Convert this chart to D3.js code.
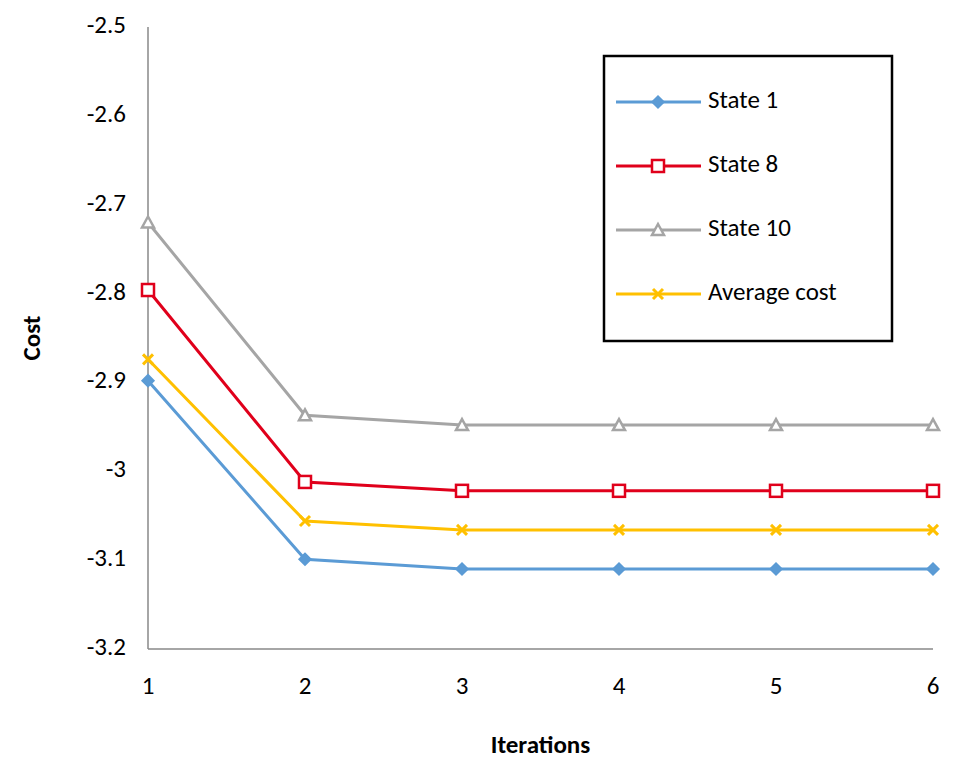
<!DOCTYPE html>
<html><head><meta charset="utf-8">
<script src="https://cdn.jsdelivr.net/npm/d3@7"></script>
<style>body{margin:0;background:#fff}text{font-family:Calibri,Carlito,"Open Sans","Liberation Sans",Arial,sans-serif}</style>
</head><body><div id="chart"></div>
<script>
const iterations = [1, 2, 3, 4, 5, 6]
const state1 = [-2.898, -3.099, -3.110, -3.110, -3.110, -3.110]
const state8 = [-2.796, -3.012, -3.022, -3.022, -3.022, -3.022]
const state10 = [-2.720, -2.937, -2.948, -2.948, -2.948, -2.948]
const average = [-2.874, -3.056, -3.066, -3.066, -3.066, -3.066]
const yTicks = [-2.5, -2.6, -2.7, -2.8, -2.9, -3, -3.1, -3.2]

const series = [
    { name: 'State 1', values: state1, color: '#5b9bd5', marker: 'diamond' },
    { name: 'State 8', values: state8, color: '#e0001b', marker: 'square' },
    { name: 'State 10', values: state10, color: '#a5a5a5', marker: 'triangle' },
    { name: 'Average cost', values: average, color: '#ffc000', marker: 'cross' }
]

const W = 969, H = 779
const margin = { left: 148, right: 36, top: 27, bottom: 130 }

const svg = d3.select('#chart').append('svg').attr('width', W).attr('height', H)

const x = d3.scaleLinear().domain([1, 6]).range([margin.left, W - margin.right])
const y = d3.scaleLinear().domain([-3.2, -2.5]).range([H - margin.bottom, margin.top])

// axes lines
svg.append('line').attr('x1', x(1)).attr('x2', x(1)).attr('y1', y(-2.5)).attr('y2', y(-3.2))
    .attr('stroke', '#888').attr('stroke-width', 1.5)
svg.append('line').attr('x1', x(1)).attr('x2', x(6)).attr('y1', y(-3.2)).attr('y2', y(-3.2))
    .attr('stroke', '#888').attr('stroke-width', 1.5)

svg.append('g').selectAll('text').data(yTicks).enter().append('text')
    .attr('x', x(1) - 22).attr('y', d => y(d)).attr('text-anchor', 'end')
    .attr('dominant-baseline', 'middle').attr('font-size', 25).text(d => d)

svg.append('g').selectAll('text').data(iterations).enter().append('text')
    .attr('x', d => x(d)).attr('y', y(-3.2) + 45).attr('text-anchor', 'middle')
    .attr('font-size', 25).text(d => d)

svg.append('text').attr('x', (x(1) + x(6)) / 2).attr('y', 753).attr('text-anchor', 'middle')
    .attr('font-size', 25).attr('font-weight', 'bold').text('Iterations')
svg.append('text').attr('transform', 'translate(40,' + (y(-2.85)) + ') rotate(-90)')
    .attr('text-anchor', 'middle').attr('font-size', 25).attr('font-weight', 'bold').text('Cost')

function drawMarker(g, type, cx, cy, color) {
    if (type === 'diamond') {
        g.append('path').attr('d', `M${cx},${cy - 6}L${cx + 6},${cy}L${cx},${cy + 6}L${cx - 6},${cy}Z`)
            .attr('fill', color).attr('stroke', color).attr('stroke-width', 1.5)
    } else if (type === 'square') {
        g.append('rect').attr('x', cx - 6).attr('y', cy - 6).attr('width', 12).attr('height', 12)
            .attr('fill', '#fff').attr('stroke', color).attr('stroke-width', 2.5)
    } else if (type === 'triangle') {
        g.append('path').attr('d', `M${cx},${cy - 6}L${cx + 6},${cy + 5}L${cx - 6},${cy + 5}Z`)
            .attr('fill', '#fff').attr('stroke', color).attr('stroke-width', 2.5)
    } else {
        g.append('path').attr('d', `M${cx - 5},${cy - 5}L${cx + 5},${cy + 5}M${cx + 5},${cy - 5}L${cx - 5},${cy + 5}`)
            .attr('stroke', color).attr('stroke-width', 3)
    }
}

const line = d3.line().x((d, i) => x(iterations[i])).y(d => y(d))

series.forEach(s => {
    svg.append('path').datum(s.values).attr('d', line).attr('fill', 'none')
        .attr('stroke', s.color).attr('stroke-width', 3)
    const g = svg.append('g')
    s.values.forEach((v, i) => drawMarker(g, s.marker, x(iterations[i]), y(v), s.color))
})

// legend
const legend = svg.append('g').attr('transform', 'translate(604,56)')
legend.append('rect').attr('width', 288).attr('height', 285).attr('fill', '#fff')
    .attr('stroke', '#000').attr('stroke-width', 2.5)
series.forEach((s, i) => {
    const ly = 46 + i * 64
    legend.append('line').attr('x1', 12).attr('x2', 97).attr('y1', ly).attr('y2', ly)
        .attr('stroke', s.color).attr('stroke-width', 3)
    drawMarker(legend, s.marker, 54, ly, s.color)
    legend.append('text').attr('x', 104).attr('y', ly).attr('dominant-baseline', 'middle')
        .attr('font-size', 25).text(s.name)
})
</script></body></html>
